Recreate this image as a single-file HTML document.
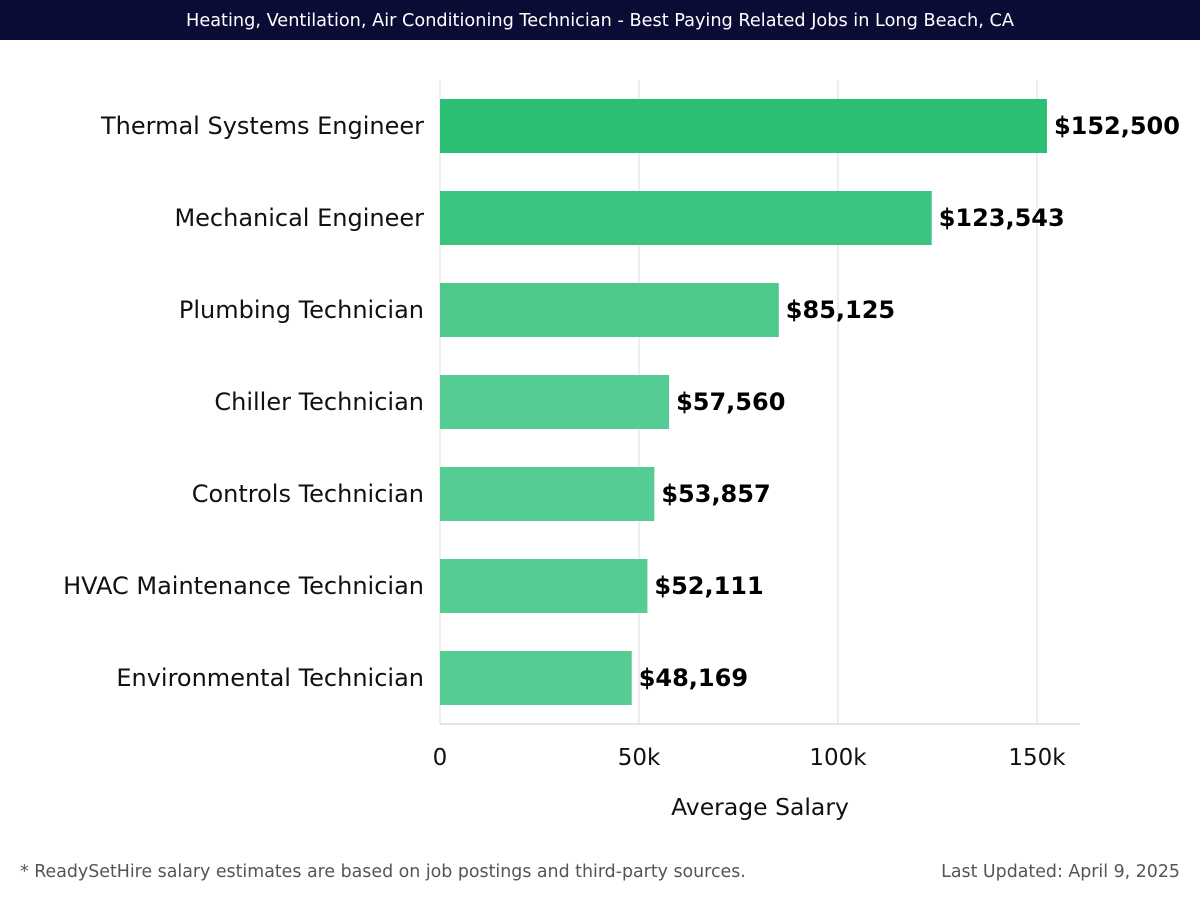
<!DOCTYPE html>
<html><head><meta charset="utf-8"><style>
body{margin:0;width:1200px;height:900px;background:#fff;font-family:"DejaVu Sans","Liberation Sans",sans-serif;overflow:hidden}
#title{position:absolute;left:0;top:0;width:1200px;height:40px;background:#0b0c36;color:#fff;font-size:17.7px;line-height:42px;text-align:center}
.foot{position:absolute;top:862px;font-size:17.4px;color:#555}
</style></head><body>
<div id="title">Heating, Ventilation, Air Conditioning Technician - Best Paying Related Jobs in Long Beach, CA</div>
<svg id="chart" width="1200" height="900" style="position:absolute;left:0;top:0"></svg>
<div class="foot" style="left:20px">* ReadySetHire salary estimates are based on job postings and third-party sources.</div>
<div class="foot" style="right:20px">Last Updated: April 9, 2025</div>
<script>
const categories=["Thermal Systems Engineer","Mechanical Engineer","Plumbing Technician","Chiller Technician","Controls Technician","HVAC Maintenance Technician","Environmental Technician"];
const salaries=[152500,123543,85125,57560,53857,52111,48169];
const valueLabels=["$152,500","$123,543","$85,125","$57,560","$53,857","$52,111","$48,169"];
const tickValues=[0,50000,100000,150000];
const tickLabels=["0","50k","100k","150k"];
const colors=["#2cbf74","#3bc47f","#4cc98b","#55cc93","#55cc93","#55cc93","#55cc93"];
const NS="http://www.w3.org/2000/svg";
const svg=document.getElementById('chart');
const x0=440,pxPer=199/50000,top0=80,band=92,barH=54,plotBottom=724;
const xs=v=>x0+v*pxPer;
function mk(t,a){const e=document.createElementNS(NS,t);for(const k in a)e.setAttribute(k,a[k]);svg.appendChild(e);return e;}
tickValues.forEach((v,i)=>{
 const g=mk('line',{x1:xs(v),x2:xs(v),y1:top0,y2:plotBottom,stroke:'#dddddd','stroke-width':1});
 
 
 const t=mk('text',{x:xs(v),y:765,'text-anchor':'middle','font-size':23,fill:'#111'});
 t.textContent=tickLabels[i];
 
 
});
const ax=mk('line',{x1:x0,x2:1080,y1:plotBottom,y2:plotBottom,stroke:'#ccc'});


categories.forEach((c,i)=>{
 const y=top0+19+i*band;
 const r=mk('rect',{x:x0,y:y,width:xs(salaries[i])-x0,height:barH,fill:colors[i]});
 
 
 const l=mk('text',{x:424,y:y+barH/2+8,'text-anchor':'end','font-size':24,fill:'#111'});
 l.textContent=c;
 
 
 const v=mk('text',{x:xs(salaries[i])+7,y:y+barH/2+8,'font-size':24,'font-weight':'bold',fill:'#000'});
 v.textContent=valueLabels[i];
 
 
});
const at=mk('text',{x:760,y:815,'text-anchor':'middle','font-size':23.5,fill:'#111'});
at.textContent="Average Salary";


</script>
</body></html>
